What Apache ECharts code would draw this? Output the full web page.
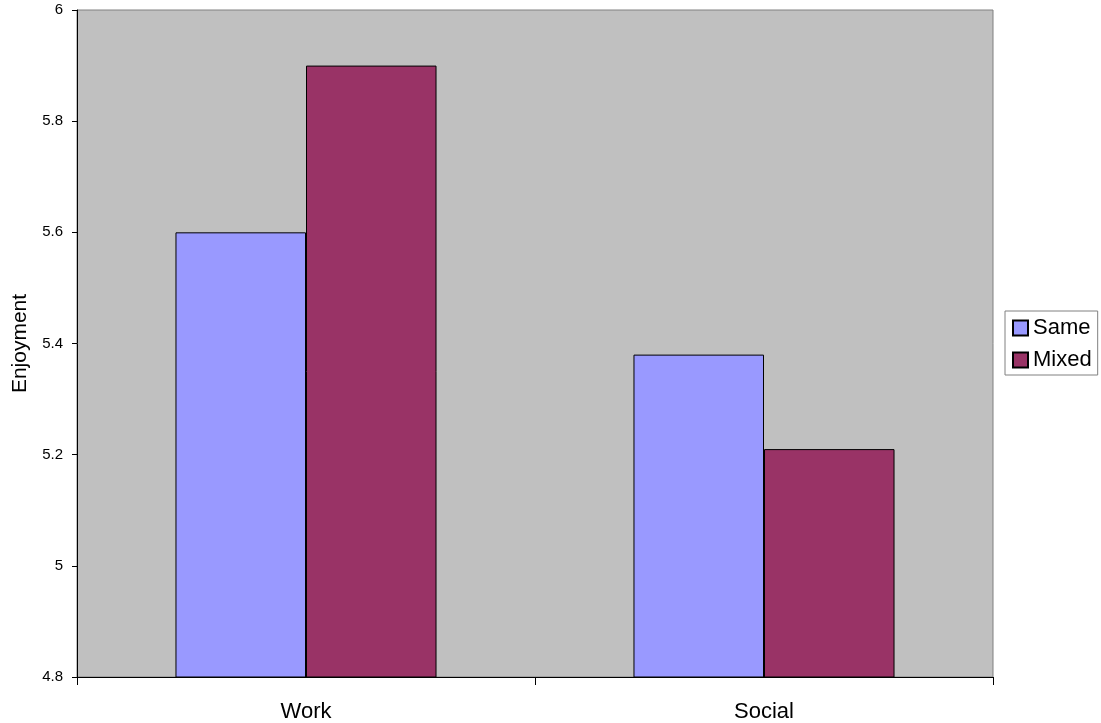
<!DOCTYPE html>
<html><head><meta charset="utf-8">
<script src="https://cdn.jsdelivr.net/npm/echarts@6/dist/echarts.min.js"></script>
<style>html,body{margin:0;padding:0;background:#fff}#c{width:1101px;height:723px}</style>
</head><body><div id="c"></div>
<script>
const categories = ["Work", "Social"];
const sameValues = [5.6, 5.38];
const mixedValues = [5.9, 5.21];
const yTicks = [4.8, 5, 5.2, 5.4, 5.6, 5.8, 6];

const chart = echarts.init(document.getElementById('c'), null, {renderer: 'canvas'});
chart.setOption({
  animation: false,
  backgroundColor: '#ffffff',
  textStyle: {fontFamily: 'Liberation Sans, Arial, sans-serif'},
  grid: {left: 77, right: 108, top: 10, bottom: 46, show: true, containLabel: false,
         outerBoundsMode: 'none',
         backgroundColor: '#C0C0C0', borderColor: '#808080', borderWidth: 1},
  legend: {
    orient: 'vertical', left: 1005, top: 311,
    padding: [6, 6, 4, 7], itemGap: 10,
    itemWidth: 15, itemHeight: 15, icon: 'rect',
    backgroundColor: '#ffffff', borderColor: '#808080', borderWidth: 1,
    textStyle: {fontSize: 22, color: '#000', padding: [0, 0, 0, 0]},
    data: ['Same', 'Mixed']
  },
  xAxis: {
    type: 'category', data: categories,
    axisLine: {lineStyle: {color: '#000', width: 1}},
    axisTick: {show: true, length: 8, inside: false, lineStyle: {color: '#000'}},
    axisLabel: {fontSize: 22, color: '#000', margin: 24}
  },
  yAxis: {
    type: 'value', min: 4.8, max: 6, interval: 0.2,
    name: 'Enjoyment', nameLocation: 'middle', nameGap: 46,
    nameTextStyle: {fontSize: 21, color: '#000'},
    axisLine: {show: true, lineStyle: {color: '#000', width: 1}},
    axisTick: {show: true, length: 5, lineStyle: {color: '#000'}},
    axisLabel: {fontSize: 15, color: '#000', margin: 14,
      formatter: v => { const t = yTicks.find(x => Math.abs(x - v) < 1e-6); return t === undefined ? '' : String(t); }},
    splitLine: {show: false}
  },
  series: [
    {name: 'Same', type: 'bar', data: sameValues, barGap: '0%', barCategoryGap: '43%',
     itemStyle: {color: '#9999FF', borderColor: '#000', borderWidth: 1}},
    {name: 'Mixed', type: 'bar', data: mixedValues, barGap: '0%', barCategoryGap: '43%',
     itemStyle: {color: '#993366', borderColor: '#000', borderWidth: 1}}
  ]
});
</script></body></html>
